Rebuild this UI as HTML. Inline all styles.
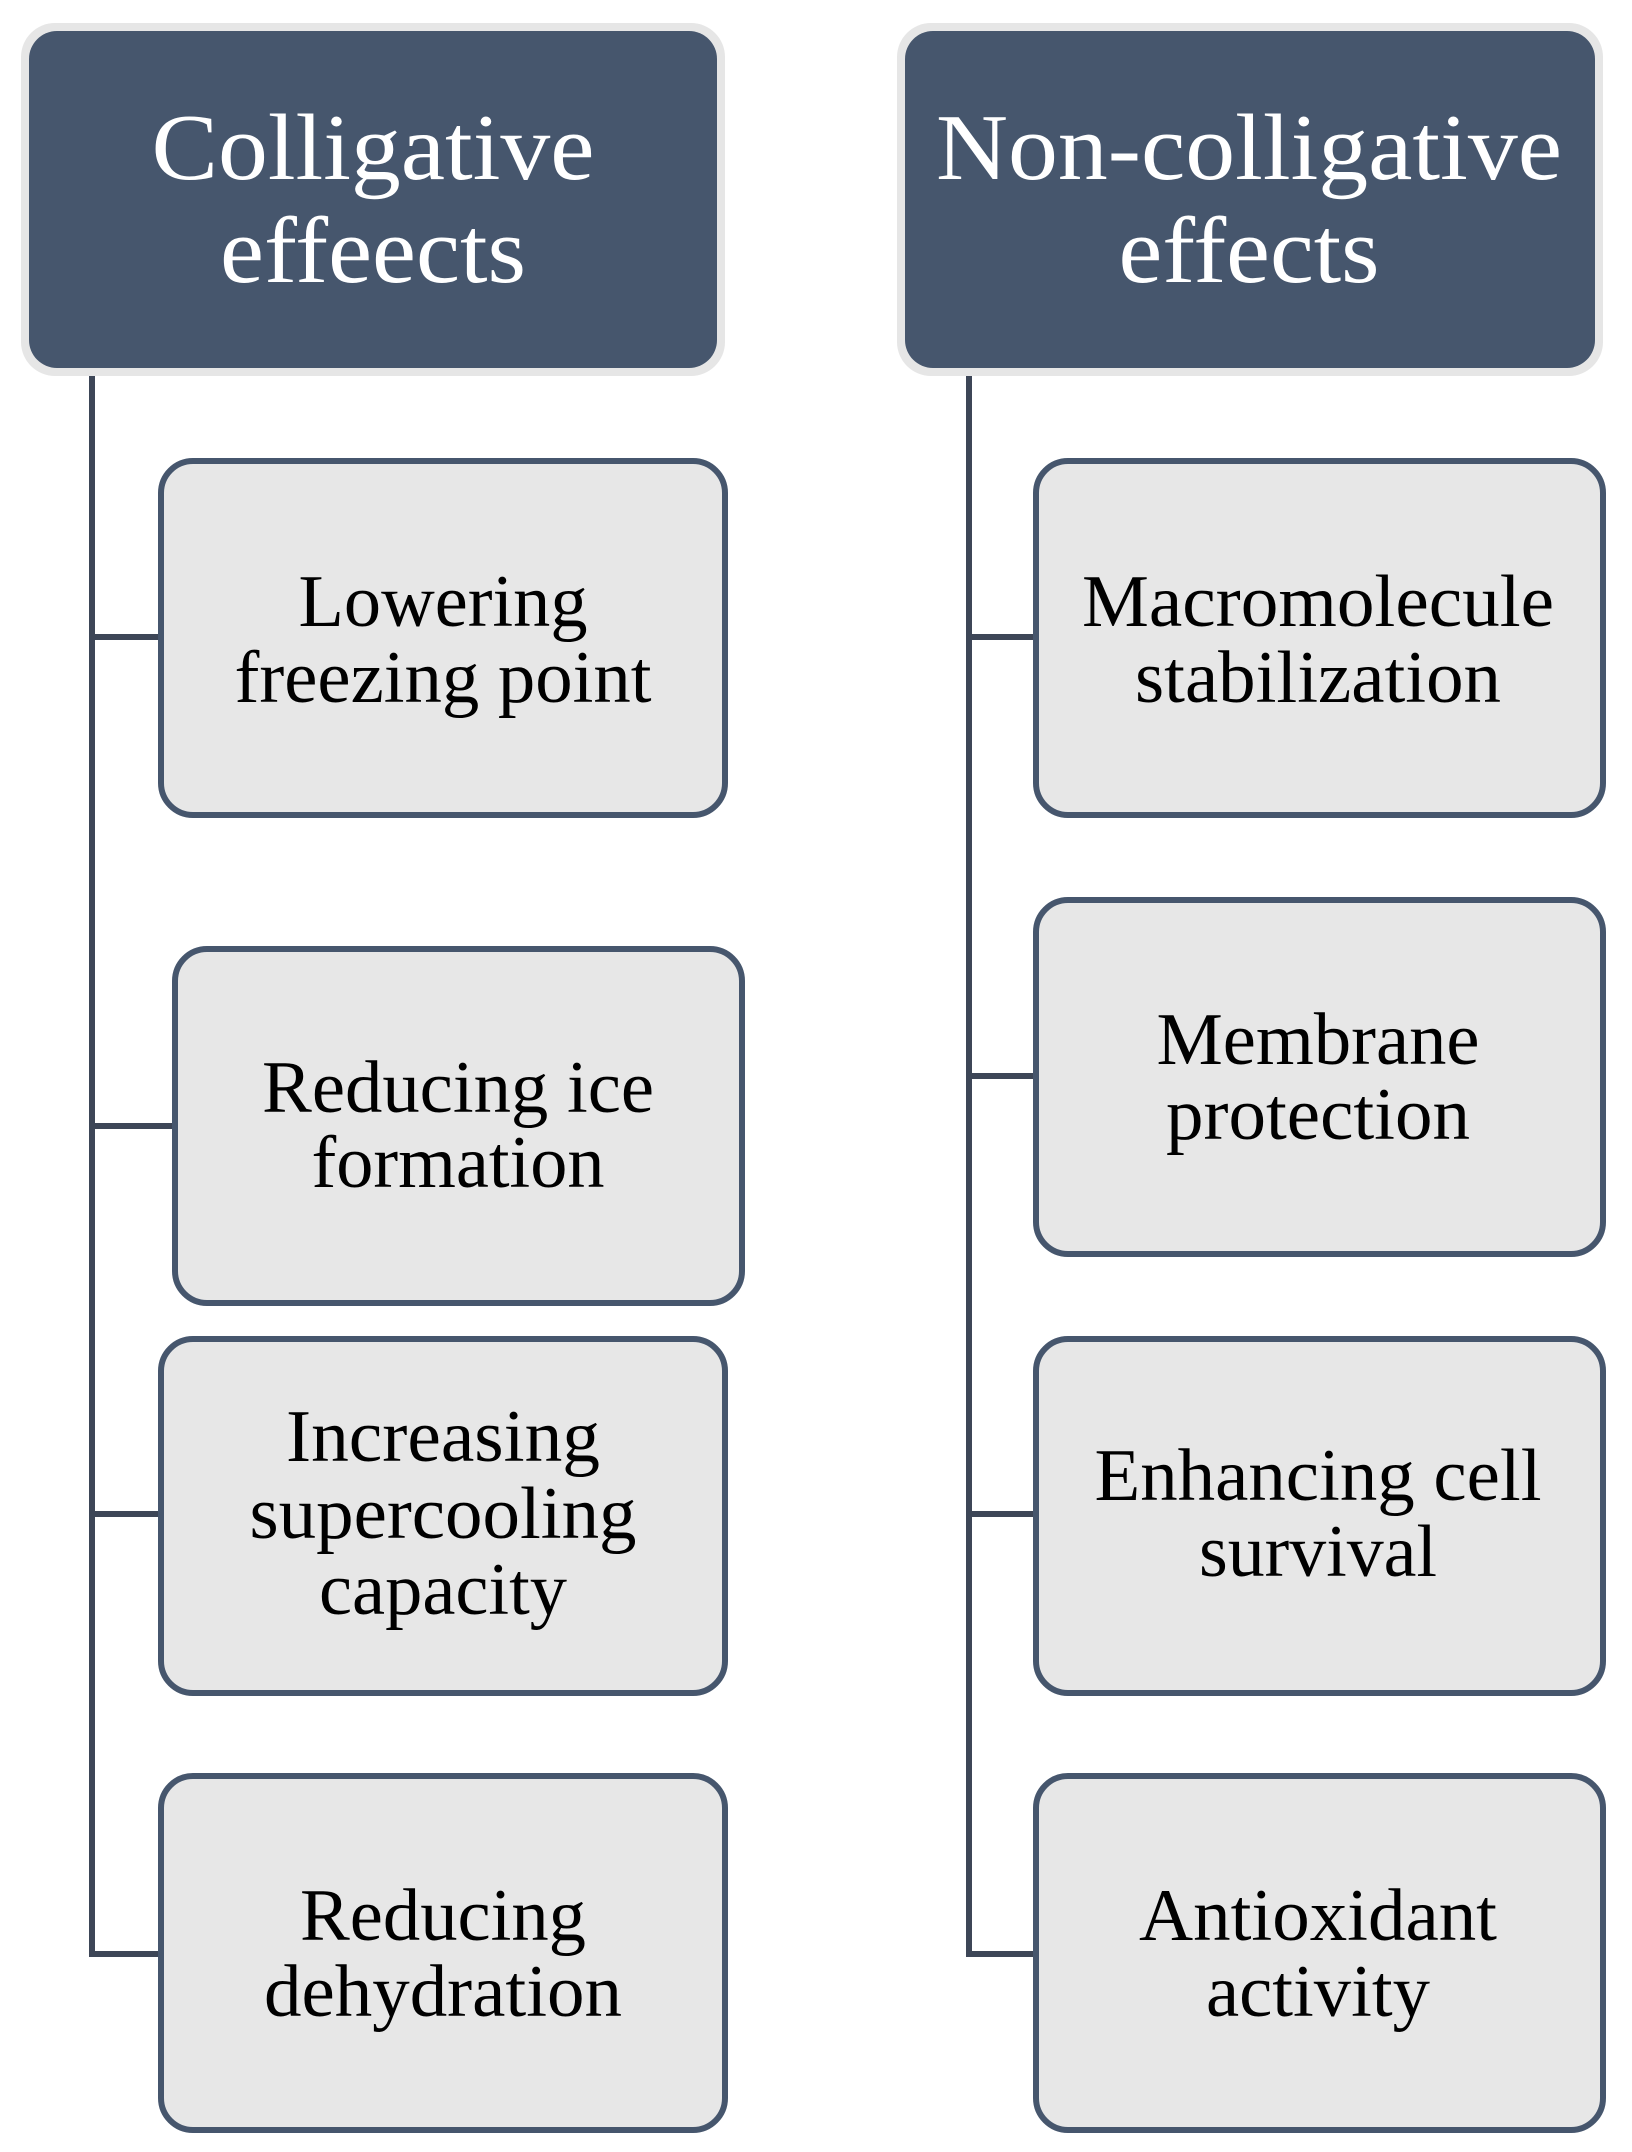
<!DOCTYPE html>
<html><head><meta charset="utf-8"><style>
html,body{margin:0;padding:0;background:#fff;}
svg{display:block;}
text{font-family:"Liberation Serif",serif;text-anchor:middle;}
.h{fill:#fff;font-size:94px;}
.b{fill:#000;font-size:74px;}
</style></head><body>
<svg width="1632" height="2152" viewBox="0 0 1632 2152" xmlns="http://www.w3.org/2000/svg">
<g fill="none" stroke="#3d4657" stroke-width="6">
<path d="M92 372 V1954 H161 M92 637 H161 M92 1126 H175 M92 1514 H161"/>
<path d="M969 372 V1954 H1036 M969 637 H1036 M969 1076 H1036 M969 1514 H1036"/>
</g>
<rect x="21" y="23" width="704" height="353" rx="34" fill="#e6e6e6"/>
<rect x="29" y="31" width="688" height="337" rx="28" fill="#46566d"/>
<rect x="897" y="23" width="706" height="353" rx="34" fill="#e6e6e6"/>
<rect x="905" y="31" width="690" height="337" rx="28" fill="#46566d"/>
<text class="h" x="373" y="179" textLength="443" lengthAdjust="spacingAndGlyphs">Colligative</text>
<text class="h" x="373" y="282" textLength="306" lengthAdjust="spacingAndGlyphs">effeects</text>
<text class="h" x="1249" y="179" textLength="626" lengthAdjust="spacingAndGlyphs">Non-colligative</text>
<text class="h" x="1249" y="282" textLength="261" lengthAdjust="spacingAndGlyphs">effects</text>
<g fill="#e7e7e7" stroke="#46566d" stroke-width="6">
<rect x="161" y="461" width="564" height="354" rx="32"/>
<rect x="175" y="949" width="567" height="354" rx="32"/>
<rect x="161" y="1339" width="564" height="354" rx="32"/>
<rect x="161" y="1776" width="564" height="354" rx="32"/>
<rect x="1036" y="461" width="567" height="354" rx="32"/>
<rect x="1036" y="900" width="567" height="354" rx="32"/>
<rect x="1036" y="1339" width="567" height="354" rx="32"/>
<rect x="1036" y="1776" width="567" height="354" rx="32"/>
</g>
<text class="b" x="443" y="626" textLength="289" lengthAdjust="spacingAndGlyphs">Lowering</text>
<text class="b" x="443" y="702" textLength="417" lengthAdjust="spacingAndGlyphs">freezing point</text>
<text class="b" x="458" y="1112" textLength="392" lengthAdjust="spacingAndGlyphs">Reducing ice</text>
<text class="b" x="458" y="1187" textLength="293" lengthAdjust="spacingAndGlyphs">formation</text>
<text class="b" x="443" y="1461" textLength="314" lengthAdjust="spacingAndGlyphs">Increasing</text>
<text class="b" x="443" y="1538" textLength="387" lengthAdjust="spacingAndGlyphs">supercooling</text>
<text class="b" x="443" y="1614" textLength="248" lengthAdjust="spacingAndGlyphs">capacity</text>
<text class="b" x="443" y="1940" textLength="286" lengthAdjust="spacingAndGlyphs">Reducing</text>
<text class="b" x="443" y="2016" textLength="358" lengthAdjust="spacingAndGlyphs">dehydration</text>
<text class="b" x="1318" y="626" textLength="472" lengthAdjust="spacingAndGlyphs">Macromolecule</text>
<text class="b" x="1318" y="702" textLength="366" lengthAdjust="spacingAndGlyphs">stabilization</text>
<text class="b" x="1318" y="1064" textLength="323" lengthAdjust="spacingAndGlyphs">Membrane</text>
<text class="b" x="1318" y="1139" textLength="304" lengthAdjust="spacingAndGlyphs">protection</text>
<text class="b" x="1318" y="1500" textLength="447" lengthAdjust="spacingAndGlyphs">Enhancing cell</text>
<text class="b" x="1318" y="1576" textLength="238" lengthAdjust="spacingAndGlyphs">survival</text>
<text class="b" x="1318" y="1940" textLength="358" lengthAdjust="spacingAndGlyphs">Antioxidant</text>
<text class="b" x="1318" y="2016" textLength="224" lengthAdjust="spacingAndGlyphs">activity</text>
</svg>
</body></html>
